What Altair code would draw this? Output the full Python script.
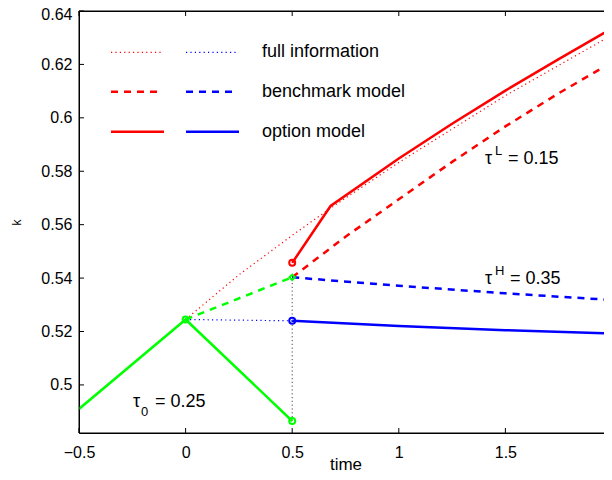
import altair as alt
import pandas as pd

# ---------------- data ----------------
green_solid_x = [-0.5, 0.0, 0.5]
green_solid_y = [0.4910, 0.5245, 0.4865]
green_dash_x = [0.0, 0.5]
green_dash_y = [0.5245, 0.5403]

red_full_x = [0.0, 0.25, 0.5, 0.68, 1.0, 1.5, 2.0]
red_full_y = [0.5245, 0.5412, 0.5560, 0.5662, 0.5833, 0.6083, 0.6310]
blue_full_x = [0.0, 0.5]
blue_full_y = [0.5245, 0.5240]

red_bench_x = [0.5, 0.75, 1.0, 1.25, 1.5, 1.75, 2.0]
red_bench_y = [0.5403, 0.5555, 0.5695, 0.5835, 0.5968, 0.6092, 0.6208]
blue_bench_x = [0.5, 1.0, 1.5, 2.0]
blue_bench_y = [0.5403, 0.5371, 0.5343, 0.5318]

red_opt_x = [0.5, 0.68, 1.0, 1.25, 1.5, 1.75, 2.0]
red_opt_y = [0.5457, 0.5670, 0.5848, 0.5978, 0.6102, 0.6220, 0.6335]
blue_opt_x = [0.5, 1.0, 1.5, 2.0]
blue_opt_y = [0.5240, 0.5221, 0.5205, 0.5193]

vert_x = [0.5, 0.5]
vert_y = [0.4865, 0.5403]

circle_x = [0.0, 0.5, 0.5, 0.5]
circle_y = [0.5245, 0.5457, 0.5240, 0.4865]
circle_c = ["#00ff00", "#ff0000", "#0000ff", "#00ff00"]
diamond_x = [0.5]
diamond_y = [0.5403]

x_ticks = [-0.5, 0.0, 0.5, 1.0, 1.5, 2.0]
y_ticks = [0.50, 0.52, 0.54, 0.56, 0.58, 0.60, 0.62, 0.64]
legend_labels = ["full information", "benchmark model", "option model"]

ann_main = ["τ", "τ", "τ"]
ann_script = ["0", "H", "L"]
ann_value = ["= 0.25", "= 0.35", "= 0.15"]
ann_x = [-0.2467, 1.4043, 1.4043]
ann_y = [0.4917, 0.5377, 0.5827]

# ---------------- layout / style ----------------
W, H = 533, 422
XDOM = [-0.5, 2.0]
YDOM = [0.482, 0.64]
FONT = "Liberation Sans"
RED, BLUE, GREEN = "#ff0000", "#0000ff", "#00ff00"
DOT = [1.2, 3.2]
DASH = [7, 6]

AX_STYLE = dict(ticks=False, tickSize=0, domain=False, grid=False, labelFlush=False,
                labelOverlap=False, labelFont=FONT, labelFontSize=16, labelColor="black",
                titleFont=FONT, titleFontWeight="normal", titleColor="black")
X_AXIS = alt.Axis(values=x_ticks, format=".1~f", title="time", labelPadding=11,
                  titleFontSize=17, titleBaseline="alphabetic", titleY=36, titleX=W / 2,
                  **AX_STYLE)
Y_AXIS = alt.Axis(values=y_ticks, format=".2~f", title="k", labelPadding=7,
                  titleFontSize=12, titleBaseline="alphabetic", titleX=-59, titleY=H / 2,
                  labelOffset={"condition": {"test": "datum.value > 0.635", "value": 3}, "value": 0},
                  **AX_STYLE)


def X(field="x"):
    return alt.X(f"{field}:Q", scale=alt.Scale(domain=XDOM, nice=False, zero=False), axis=X_AXIS)


def Y(field="y"):
    return alt.Y(f"{field}:Q", scale=alt.Scale(domain=YDOM, nice=False, zero=False), axis=Y_AXIS)


def line(xs, ys, color, width, dash=None):
    df = pd.DataFrame({"x": xs, "y": ys, "o": list(range(len(xs)))})
    kw = dict(color=color, strokeWidth=width, clip=True, strokeCap="butt")
    if dash:
        kw["strokeDash"] = dash
    return alt.Chart(df).mark_line(**kw).encode(x=X(), y=Y(), order="o:Q")


layers = []
# dotted (full information) and the vertical guide
layers.append(line(red_full_x, red_full_y, RED, 1.2, DOT))
layers.append(line(blue_full_x, blue_full_y, BLUE, 1.2, DOT))
layers.append(line(vert_x, vert_y, "#444444", 1.0, [1.2, 2.6]))
# dashed (benchmark)
layers.append(line(green_dash_x, green_dash_y, GREEN, 2.5, DASH))
layers.append(line(red_bench_x, red_bench_y, RED, 2.5, DASH))
layers.append(line(blue_bench_x, blue_bench_y, BLUE, 2.5, DASH))
# solid (option)
layers.append(line(green_solid_x, green_solid_y, GREEN, 2.5))
layers.append(line(red_opt_x, red_opt_y, RED, 2.5))
layers.append(line(blue_opt_x, blue_opt_y, BLUE, 2.5))

# markers
cdf = pd.DataFrame({"x": circle_x, "y": circle_y, "c": circle_c})
layers.append(alt.Chart(cdf).mark_point(shape="circle", filled=False, size=36, strokeWidth=2, opacity=1)
              .encode(x=X(), y=Y(), color=alt.Color("c:N", scale=None)))
ddf = pd.DataFrame({"x": diamond_x, "y": diamond_y})
layers.append(alt.Chart(ddf).mark_point(shape="diamond", filled=False, size=30, strokeWidth=2,
                                        color=GREEN, opacity=1)
              .encode(x=X(), y=Y()))

# inward ticks on all four sides
xt = pd.DataFrame({"x": x_ticks})
yt = pd.DataFrame({"y": y_ticks})
layers.append(alt.Chart(xt).mark_rule(color="black", strokeWidth=1)
              .encode(x=X(), y=alt.value(H), y2=alt.value(H - 5)))
layers.append(alt.Chart(xt).mark_rule(color="black", strokeWidth=1)
              .encode(x=X(), y=alt.value(0), y2=alt.value(5)))
layers.append(alt.Chart(yt).mark_rule(color="black", strokeWidth=1)
              .encode(y=Y(), x=alt.value(0), x2=alt.value(5)))
layers.append(alt.Chart(yt).mark_rule(color="black", strokeWidth=1)
              .encode(y=Y(), x=alt.value(W), x2=alt.value(W - 5)))

# box around the plot area
one = pd.DataFrame({"a": [0]})
for enc in [dict(x=alt.value(0), x2=alt.value(W), y=alt.value(0)),
            dict(x=alt.value(0), x2=alt.value(W), y=alt.value(H)),
            dict(x=alt.value(0), y=alt.value(0), y2=alt.value(H)),
            dict(x=alt.value(W - 0.5), y=alt.value(0), y2=alt.value(H))]:
    layers.append(alt.Chart(one).mark_rule(color="black", strokeWidth=1).encode(**enc))

# legend (drawn by hand: two sample columns)
rows_y = [41.3, 80.7, 120.7]
styles = [(DOT, 1.2, 82.7, 157.7), (DASH, 2.5, 82.7, 157.7), (None, 2.5, 85, 160)]
for (dash, wdt, rend, bend), ry, lab in zip(styles, rows_y, legend_labels):
    kw = dict(strokeWidth=wdt, strokeCap="butt")
    if dash:
        kw["strokeDash"] = dash
    layers.append(alt.Chart(one).mark_rule(color=RED, **kw)
                  .encode(x=alt.value(32), x2=alt.value(rend), y=alt.value(ry)))
    layers.append(alt.Chart(one).mark_rule(color=BLUE, **kw)
                  .encode(x=alt.value(107), x2=alt.value(bend), y=alt.value(ry)))
    layers.append(alt.Chart(pd.DataFrame({"t": [lab]}))
                  .mark_text(align="left", baseline="middle", font=FONT, fontSize=18, color="black")
                  .encode(x=alt.value(183), y=alt.value(ry), text="t:N"))

# tau annotations
adf = pd.DataFrame({"x": ann_x, "y": ann_y, "m": ann_main, "s": ann_script, "v": ann_value})
layers.append(alt.Chart(adf).mark_text(align="left", baseline="alphabetic", font=FONT, fontSize=18,
                                       color="black")
              .encode(x=X(), y=Y(), text="m:N"))
for i in range(3):
    sdf = adf.iloc[[i]]
    dy = 9 if i == 0 else -9
    dx_s = 8 if i == 0 else 10
    dx_v = 22 if i == 0 else (25 if i == 1 else 23)
    layers.append(alt.Chart(sdf).mark_text(align="left", baseline="alphabetic", font=FONT,
                                           fontSize=13, color="black", dx=dx_s, dy=dy)
                  .encode(x=X(), y=Y(), text="s:N"))
    layers.append(alt.Chart(sdf).mark_text(align="left", baseline="alphabetic", font=FONT,
                                           fontSize=18, color="black", dx=dx_v)
                  .encode(x=X(), y=Y(), text="v:N"))

chart = (
    alt.layer(*layers)
    .properties(width=W, height=H, background="white",
                autosize=alt.AutoSizeParams(type="none"),
                padding={"left": 71, "top": 3, "right": -8, "bottom": 39})
    .configure_view(stroke="black", strokeWidth=1)
)

chart.save("out.html", embed_options={"renderer": "svg", "actions": False})
